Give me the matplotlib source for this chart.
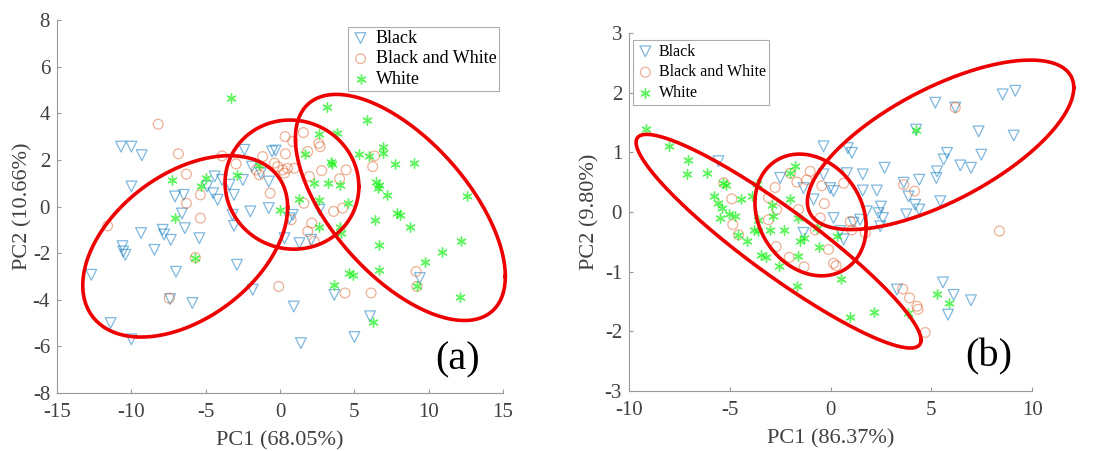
import numpy as np
import matplotlib
matplotlib.use("Agg")
import matplotlib.pyplot as plt

plt.rcParams["font.family"] = ["Liberation Serif", "DejaVu Serif"]
plt.rcParams["axes.unicode_minus"] = False

# ---- panel (a) data ----
a_black_x = [-10.7, -10.0, -9.3, -10.0, -7.06, -6.48, -6.6, -6.4, -9.35, -7.9, -7.8, -7.35,
             -10.6, -10.55, -10.4, -8.45, -7.0, -12.7, -11.4, -10.0, -7.4, -5.9, -5.43, -4.9,
             -4.5, -4.2, -4.4, -3.9, -3.4, -3.1, -3.1, -2.9, -3.2, -2.5, -2.4, -1.9, -2.0,
             -1.84, -1.3, -0.76, -0.76, -0.54, -0.3, 0.85, 0.63, 0.3, 1.3, 2.1, 2.65, 0.92,
             1.4, 3.65, 5.0, 6.05, 9.4]
a_black_y = [2.57, 2.57, 2.2, 0.86, 0.43, 0.5, -0.3, -0.93, -1.14, -1.0, -1.2, -1.43,
             -1.7, -1.93, -2.07, -1.86, -2.8, -2.93, -5.0, -5.7, -3.97, -4.14, -1.36, 0.86,
             0.57, 0.29, 1.29, 1.14, 0.93, 0.5, -0.83, -2.5, -0.36, 1.14, 2.43, 1.71, -0.21,
             -3.57, 1.43, 1.07, -0.07, 2.36, 2.4, -0.36, -0.5, -1.36, -1.57, -1.43, -0.14, -4.29,
             -5.86, -3.79, -5.6, -4.71, -3.07]

a_bw_x = [-8.2, -6.84, -6.3, -6.3, -5.36, -5.36, -11.6, -7.45, -5.7, -3.9, -2.96, -1.6,
          -1.17, -0.67, -0.16, 0.18, 0.29, 0.5, 0.34, 0.85, 1.57, 0.96, 0.36, 1.86, 1.97,
          2.6, 2.7, 2.8, 4.0, 4.44, 4.2, 3.6, 6.35, 6.23, 1.6, 0.74, 2.13, 1.86, 2.3,
          -0.09, 4.37, 6.12, 9.15, 9.2, -1.4, -0.38]
a_bw_y = [3.53, 2.26, 1.39, 0.14, 0.5, -0.5, -0.83, -3.93, -2.19, 2.17, 1.83, 1.57,
          2.14, 0.57, 1.71, 1.57, 1.43, 1.64, 3.0, 2.79, 3.17, 1.64, 2.26, 2.36, 1.29,
          2.71, 2.57, 1.54, 1.19, 1.57, -0.07, -0.21, 2.17, 1.71, 0.14, -0.57, -0.71, -1.07, -1.5,
          -3.43, -3.71, -3.71, -2.79, -3.43, 1.36, 1.86]

a_white_x = [-3.3, -7.29, -7.06, -5.3, -4.98, -5.7, -2.9, -1.4, 0.0, 1.3, 1.7, 2.3, 2.65,
             2.65, 2.6, 3.16, 3.2, 3.4, 3.5, 3.8, 4.0, 4.0, 4.1, 4.55, 3.65, 4.66, 4.93,
             5.3, 5.85, 5.96, 6.9, 6.9, 6.46, 6.57, 6.68, 7.2, 6.4, 6.68, 6.68, 6.28, 7.76,
             7.87, 8.07, 9.03, 8.77, 9.78, 10.9, 12.2, 12.6, 12.1, 9.2]
a_white_y = [4.67, 1.14, -0.5, 0.86, 1.21, -2.19, 1.36, 1.79, -0.17, 0.31, 2.26, 1.03, 0.29,
             -0.86, 3.1, 4.26, 1.0, 1.93, 1.83, 3.17, 0.93, -0.86, -1.14, 0.14, -3.36, -2.86, -2.93,
             2.26, 3.71, 2.17, 2.57, 2.29, 1.07, 0.79, 0.93, 0.5, -0.57, -1.67, -2.71, -4.97, 1.83,
             -0.29, -0.36, 1.86, -0.86, -2.36, -1.93, -1.46, 0.46, -3.9, -3.43]

# ellipses: centre x, centre y, half-width x, half-height y, tilt (rho)
a_ell_cx = [-6.38, 0.80, 8.09]
a_ell_cy = [-1.71, 0.94, -0.04]
a_ell_ax = [6.89, 4.50, 7.06]
a_ell_ay = [3.89, 2.77, 4.85]
a_ell_rho = [0.43, -0.03, -0.61]

# ---- panel (b) data ----
b_black_x = [-5.56, -0.35, 0.86, 1.06, -2.5, -0.35, 0.81, 1.6, 2.68, 3.63, 4.4, 5.2, 6.19,
             4.24, 8.54, 9.17, 7.35, 9.09, 5.78, 5.61, 6.44, 6.97, 7.48, 5.28, 5.25, 5.45,
             3.87, 4.2, 4.4, 3.76, 2.3, 1.6, 2.5, 2.38, 2.6, 1.8, 1.47, 2.47, -0.02, 0.15,
             -0.84, -1.34, 0.15, 0.48, 0.65, -1.34, 3.29, 5.58, 6.11, 6.97, 5.83, 1.14]
b_black_y = [0.85, 1.10, 1.07, 0.99, 0.57, 0.63, 0.65, 0.63, 0.74, 0.49, 0.54, 1.83, 1.75,
             1.38, 1.97, 2.03, 1.35, 1.28, 0.99, 0.88, 0.78, 0.74, 0.96, 0.68, 0.57, 0.18,
             0.26, 0.12, 0.04, -0.04, 0.36, 0.36, 0.09, -0.02, -0.1, 0.01, -0.13, -0.24, 0.4, 0.35,
             0.21, 0.4, -0.1, -0.32, -0.46, -0.35, -1.3, -1.18, -1.39, -1.48, -1.72, -0.18]

b_bw_x = [-4.9, -5.3, -4.85, -4.57, -3.08, -2.75, -2.67, -3.08, -2.7, -2.05, -2.0, -1.67,
          -1.18, -1.01, -1.59, -0.43, -0.31, 0.65, -0.76, -0.51, -0.1, 0.15, 0.28, -1.31,
          1.06, 1.72, 0.98, 3.63, 4.17, 8.38, 6.19, 3.58, 3.92, 4.29, 4.34, 4.7]
b_bw_y = [0.22, 0.49, -0.21, -0.38, 0.24, 0.41, 0.04, -0.13, -0.58, -0.76, 0.65, 0.5,
          0.54, 0.68, 0.04, 0.44, 0.14, 0.48, -0.3, -0.1, -0.63, -0.86, -0.9, -0.92,
          -0.3, -0.35, -0.16, 0.46, 0.35, -0.32, 1.75, -1.29, -1.44, -1.58, -1.63, -2.02]

b_white_x = [-9.16, -8.0, -7.05, -7.1, -6.11, -5.36, -5.2, -5.78, -5.56, -5.4, -5.48, -5.02,
             -4.74, -4.45, -3.9, -3.66, -3.82, -3.58, -4.16, -4.57, -3.46, -3.2, -3.0, -2.91,
             -2.86, -2.58, -2.33, -2.0, -1.76, -2.0, -1.59, -1.5, -1.59, -1.64, -1.34, -0.68,
             -0.55, 0.51, 0.98, 2.14, 4.24, 5.28, 5.89, 3.84, 0.31, -3.58]
b_white_y = [1.39, 1.11, 0.87, 0.63, 0.65, 0.48, 0.46, 0.26, 0.15, 0.07, -0.1, -0.04,
             -0.06, 0.22, 0.27, 0.47, -0.31, -0.32, -0.49, -0.38, -0.72, -0.76, -0.3, 0.12,
             -0.07, -0.91, -0.3, 0.21, 0.77, 0.65, -0.1, -0.49, -0.74, -1.24, -0.44, -0.27,
             -0.58, -1.12, -1.76, -1.68, 1.38, -1.37, -1.52, -1.7, -0.41, -0.13]

b_ell_cx = [-2.58, -0.99, 5.46]
b_ell_cy = [-0.49, -0.05, 1.125]
b_ell_ax = [7.07, 2.76, 6.61]
b_ell_ay = [1.79, 1.02, 1.42]
b_ell_rho = [-0.925, -0.2, 0.674]

c_black = (0.0, 0.447, 0.741)
c_bw = (0.85, 0.325, 0.098)
c_white = (0.1, 0.95, 0.1)


def draw_ellipses(ax, cx, cy, hx, hy, rho):
    t = np.linspace(0, 2 * np.pi, 300)
    for i in range(len(cx)):
        ex = cx[i] + hx[i] * np.cos(t)
        ey = cy[i] + hy[i] * (rho[i] * np.cos(t) + np.sqrt(1 - rho[i] ** 2) * np.sin(t))
        ax.plot(ex, ey, color="#ee0000", lw=2.6, clip_on=False, zorder=5)


def panel(ax, bx, by, wx, wy, gx, gy, xlab, ylab, ypad):
    ax.scatter(bx, by, marker="v", s=60, facecolors="none", edgecolors=c_black,
               linewidths=0.9, alpha=0.5, label="Black")
    ax.scatter(wx, wy, marker="o", s=50, facecolors="none", edgecolors=c_bw,
               linewidths=0.9, alpha=0.45, label="Black and White")
    ax.scatter(gx, gy, marker=(6, 2, 0), s=45, color=c_white,
               linewidths=1.0, alpha=0.7, label="White")
    for s in ["top", "right"]:
        ax.spines[s].set_visible(False)
    for s in ["left", "bottom"]:
        ax.spines[s].set_color("#999999")
    ax.tick_params(direction="in", length=3, color="#999999", labelsize=15,
                   labelcolor="#404040")
    ax.tick_params(axis="x", pad=7)
    ax.tick_params(axis="y", pad=5)
    ax.set_xlabel(xlab, fontsize=16, color="#404040", labelpad=7)
    ax.set_ylabel(ylab, fontsize=16, color="#404040", labelpad=ypad)


def legend(ax, anchor, size, spacing, border):
    leg = ax.legend(loc="upper left", bbox_to_anchor=anchor, fontsize=size,
                    fancybox=False, edgecolor="#999999", handletextpad=0.3,
                    borderpad=border, labelspacing=spacing, handlelength=1.1,
                    borderaxespad=0)
    leg.get_frame().set_linewidth(0.8)


fig = plt.figure(figsize=(10.97, 4.51), dpi=100)

ax1 = fig.add_axes([0.052, 0.1286, 0.4066, 0.827])
panel(ax1, a_black_x, a_black_y, a_bw_x, a_bw_y, a_white_x, a_white_y,
      "PC1 (68.05%)", "PC2 (10.66%)", 0)
draw_ellipses(ax1, a_ell_cx, a_ell_cy, a_ell_ax, a_ell_ay, a_ell_rho)
ax1.set_xlim(-15, 15)
ax1.set_ylim(-8, 8)
ax1.set_xticks(range(-15, 16, 5))
ax1.set_yticks(range(-8, 9, 2))
ax1.text(11.95, -6.6, "(a)", fontsize=29, ha="center", va="center")
legend(ax1, (0.652, 0.981), 13, 0.2, 0.15)

ax2 = fig.add_axes([0.5734, 0.133, 0.3674, 0.794])
panel(ax2, b_black_x, b_black_y, b_bw_x, b_bw_y, b_white_x, b_white_y,
      "PC1 (86.37%)", "PC2 (9.80%)", 4)
draw_ellipses(ax2, b_ell_cx, b_ell_cy, b_ell_ax, b_ell_ay, b_ell_rho)
ax2.set_xlim(-10, 10)
ax2.set_ylim(-3, 3)
ax2.set_xticks(range(-10, 11, 5))
ax2.set_yticks(range(-3, 4, 1))
ax2.text(7.85, -2.42, "(b)", fontsize=29, ha="center", va="center")
legend(ax2, (0.01, 0.98), 11.5, 0.3, 0.22)

fig.savefig("out.png", dpi=100)
